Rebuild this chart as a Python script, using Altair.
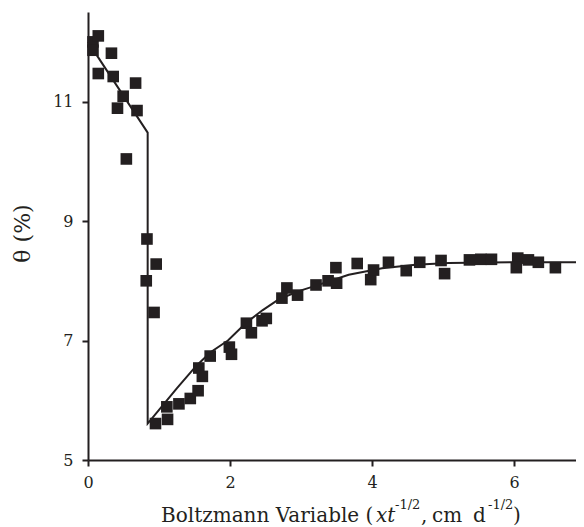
import altair as alt
import pandas as pd

# Observed data points (Boltzmann variable, theta %)
pt_x = [0.07, 0.07, 0.145, 0.145, 0.33, 0.355, 0.415, 0.495, 0.54, 0.67, 0.69,
        0.83, 0.96, 0.82, 0.93,
        0.95, 1.12, 1.11, 1.28, 1.44, 1.55, 1.56, 1.61, 1.72, 1.99, 2.02,
        2.23, 2.30, 2.45, 2.51, 2.73, 2.80, 2.95, 3.21, 3.38, 3.49, 3.50,
        3.79, 3.98, 4.02, 4.23, 4.48, 4.67, 4.97, 5.02, 5.37, 5.53, 5.68,
        6.05, 6.03, 6.20, 6.34, 6.58]
pt_y = [12.0, 11.86, 12.10, 11.47, 11.81, 11.42, 10.89, 11.09, 10.04, 11.31, 10.85,
        8.70, 8.28, 8.00, 7.47,
        5.61, 5.68, 5.89, 5.94, 6.03, 6.16, 6.54, 6.40, 6.74, 6.89, 6.77,
        7.29, 7.13, 7.33, 7.37, 7.71, 7.88, 7.76, 7.93, 8.00, 8.22, 7.96,
        8.29, 8.02, 8.18, 8.31, 8.17, 8.31, 8.34, 8.12, 8.35, 8.36, 8.36,
        8.38, 8.22, 8.35, 8.31, 8.22]

# Fitted model curve
line_x = [0.0, 0.84, 0.84, 1.0, 1.25, 1.52, 1.72, 1.97, 2.23, 2.46, 2.7, 3.0,
          3.21, 3.67, 4.14, 4.61, 5.08, 6.0, 6.87]
line_y = [12.0, 10.48, 5.61, 5.84, 6.2, 6.57, 6.8, 7.0, 7.3, 7.51, 7.7, 7.84,
          7.92, 8.10, 8.21, 8.27, 8.30, 8.31, 8.31]

x_ticks = [0, 2, 4, 6]
y_ticks = [5, 7, 9, 11]

INK = "#231f20"
FONT = "DejaVu Serif"

df_pts = pd.DataFrame({"x": pt_x, "y": pt_y})
df_line = pd.DataFrame({"x": line_x, "y": line_y, "order": list(range(len(line_x)))})

x_scale = alt.Scale(domain=[0, 6.87], nice=False, zero=False)
y_scale = alt.Scale(domain=[5, 12.5], nice=False, zero=False)

x_axis = alt.Axis(values=x_ticks, format="d", title=None, grid=False,
                  labelPadding=8, labelFlush=False)
y_axis = alt.Axis(values=y_ticks, format="d", title="θ (%)", grid=False, labelPadding=9,
                  titleFont=FONT, titleFontSize=22, titleFontWeight="normal",
                  titleColor=INK, titleAngle=270, titleX=-66, titleY=221,
                  titleAlign="center", titleBaseline="middle")

points = alt.Chart(df_pts).mark_square(size=135, color=INK, opacity=1, filled=True).encode(
    x=alt.X("x:Q", scale=x_scale, axis=x_axis),
    y=alt.Y("y:Q", scale=y_scale, axis=y_axis),
)

line = alt.Chart(df_line).mark_line(color=INK, strokeWidth=2).encode(
    x=alt.X("x:Q", scale=x_scale),
    y=alt.Y("y:Q", scale=y_scale),
    order="order:Q",
)

def piece(txt, px, py, size=20, style="normal"):
    return alt.Chart(pd.DataFrame({"t": [txt]})).mark_text(
        font=FONT, fontSize=size, fontStyle=style, color=INK,
        align="left", baseline="alphabetic"
    ).encode(text="t:N", x=alt.value(px), y=alt.value(py))

BASE = 510
SUP = 497
title_parts = [
    piece("Boltzmann Variable (", 73, BASE),
    piece("xt", 288, BASE, style="italic"),
    piece("-1/2", 307, SUP, size=13),
    piece(",", 333, BASE),
    piece("cm", 344, BASE),
    piece("d", 385, BASE),
    piece("-1/2", 400, SUP, size=13),
    piece(")", 425, BASE),
]

chart = alt.layer(line, points, *title_parts).properties(
    width=488, height=448,
    autosize=alt.AutoSizeParams(type="none"),
    padding={"left": 80, "top": 4, "right": 0, "bottom": 67},
).configure_view(stroke=None).configure_axis(
    labelFont=FONT, labelFontSize=16, labelColor=INK,
    domainColor=INK, domainWidth=2, tickColor=INK, tickWidth=2, tickSize=6,
)

chart.save("out.html", embed_options={"renderer": "svg", "actions": False})
